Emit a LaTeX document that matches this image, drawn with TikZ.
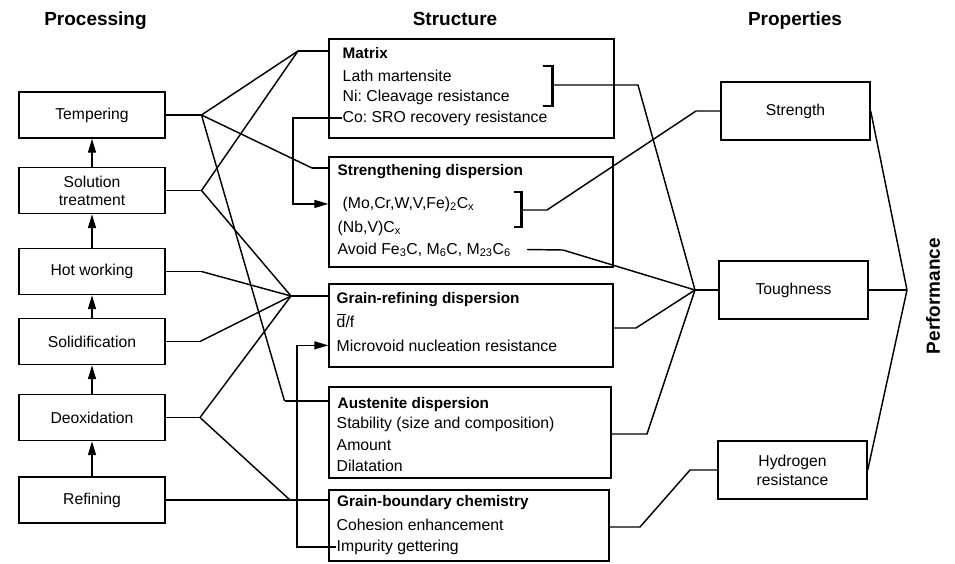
\documentclass[tikz,border=0pt]{standalone}
\usepackage{fontspec}
\setmainfont{Liberation Sans}
\usetikzlibrary{arrows.meta}
\frenchspacing
\begin{document}
\begin{tikzpicture}[x=1pt,y=-1pt,line width=1.45pt,line join=miter,
  pbox/.style={draw,minimum width=146pt,minimum height=46pt,inner sep=0pt,align=center,font=\fontsize{15.7}{18}\selectfont},
  rbox/.style={draw,minimum width=149pt,minimum height=58pt,inner sep=0pt,align=center,font=\fontsize{15.7}{19}\selectfont},
  sbox/.style={draw,inner sep=0pt},
  txt/.style={anchor=base west,inner sep=0pt,font=\fontsize{15.8}{19}\selectfont},
  ttl/.style={anchor=base west,inner sep=0pt,font=\fontsize{15.3}{18}\selectfont\bfseries},
  hdr/.style={inner sep=0pt,font=\fontsize{19}{22}\selectfont\bfseries},
  arr/.style={-{Triangle[length=14pt,width=8pt]}},
  brk/.style={line width=3pt,line cap=butt}]
\useasboundingbox (0,0) rectangle (955,563);

% headers
\node[hdr,anchor=base] (hproc) at (95.5,25) {Processing};
\node[hdr,anchor=base] (hstr) at (455,25) {Structure};
\node[hdr,anchor=base] (hprop) at (795,25) {Properties};
\node[hdr,rotate=90] (hperf) at (933,296) {Performance};

% processing boxes
\node[pbox] (temp) at (92,115) {Tempering};
\node[pbox] (sol) at (92,190.5) {Solution\\treatment};
\node[pbox] (hot) at (92,271.5) {Hot working};
\node[pbox] (solid) at (92,341.5) {Solidification};
\node[pbox] (deox) at (92,417.5) {Deoxidation};
\node[pbox] (ref) at (92,500) {Refining};

\draw[arr] (sol.north) -- (temp.south);
\draw[arr] (hot.north) -- (sol.south);
\draw[arr] (solid.north) -- (hot.south);
\draw[arr] (deox.north) -- (solid.south);
\draw[arr] (ref.north) -- (deox.south);

% structure boxes
\node[sbox,minimum width=285pt,minimum height=99pt] (mat) at (471.5,88.5) {};
\node[sbox,minimum width=284pt,minimum height=110pt] (sd) at (471,212) {};
\node[sbox,minimum width=284pt,minimum height=83pt] (grd) at (471,325.5) {};
\node[sbox,minimum width=282pt,minimum height=91pt] (aus) at (470,432.5) {};
\node[sbox,minimum width=280pt,minimum height=71pt] (gbc) at (469,525.5) {};

\node[ttl] (m1) at (342,58) {Matrix};
\node[txt] (m2) at (342,81) {Lath martensite};
\node[txt] (m3) at (342,101.7) {Ni: Cleavage resistance};
\node[txt] (m4) at (342,122) {Co: SRO recovery resistance};

\node[ttl] (s1) at (337,175.5) {Strengthening dispersion};
\node[txt] (s2) at (342,208) {(Mo,Cr,W,V,Fe)\textsubscript{2}C\textsubscript{x}};
\node[txt] (s3) at (337,232) {(Nb,V)C\textsubscript{x}};
\node[txt] (s4) at (337,254) {Avoid Fe\textsubscript{3}C, M\textsubscript{6}C, M\textsubscript{23}C\textsubscript{6}};

\node[ttl] (g1) at (336,303) {Grain-refining dispersion};
\node[txt] (g2) at (336,327) {$\overline{\hbox{d}}$/f};
\node[txt] (g3) at (336,351) {Microvoid nucleation resistance};

\node[ttl] (a1) at (337,408.3) {Austenite dispersion};
\node[txt] (a2) at (336,428.3) {Stability (size and composition)};
\node[txt] (a3) at (336,450) {Amount};
\node[txt] (a4) at (336,471) {Dilatation};

\node[ttl] (b1) at (336.5,506.7) {Grain-boundary chemistry};
\node[txt] (b2) at (336,530.7) {Cohesion enhancement};
\node[txt] (b3) at (336,551) {Impurity gettering};

% brackets
\draw (543,66) -- (552,66);
\draw (543,106) -- (552,106);
\draw[brk] (552,65.3) -- (552,106.7);
\coordinate (mbr) at (552,85);
\draw (514,192) -- (521,192);
\draw (514,227) -- (521,227);
\draw[brk] (521,191.3) -- (521,227.7);
\coordinate (sbr) at (521,210);

% property boxes
\node[rbox] (str) at (795.5,111) {Strength};
\node[rbox] (tou) at (793.5,290) {Toughness};
\node[rbox] (hyd) at (792.5,470) {Hydrogen\\resistance};

% left junctions
\coordinate (tj) at (201.5,115);
\coordinate (sj) at (201.5,190.5);
\coordinate (hj) at (201.5,271.5);
\coordinate (soj) at (200,341.5);
\coordinate (dj) at (200,417.5);
\coordinate (mj) at (298,51);
\coordinate (stj) at (312,168);
\coordinate (gj) at (291,296);
\coordinate (aj) at (284.5,401);
\coordinate (bj) at (290,500);

\draw (temp.east) -- (tj);
\draw (sol.east) -- (sj);
\draw (hot.east) -- (hj);
\draw (solid.east) -- (soj);
\draw (deox.east) -- (dj);
\draw (ref.east) -- (bj);

\draw (tj) -- (mj);
\draw (tj) -- (stj);
\draw (tj) -- (aj);
\draw (sj) -- (mj);
\draw (sj) -- (gj);
\draw (hj) -- (gj);
\draw (soj) -- (gj);
\draw (dj) -- (gj);
\draw (dj) -- (bj);

\draw (mj) -- (mj -| mat.west);
\draw (stj) -- (stj -| sd.west);
\draw (gj) -- (gj -| grd.west);
\draw (aj) -- (aj -| aus.west);
\draw (bj) -- (bj -| gbc.west);

% internal feedback arrows
\draw[arr] (m4.west) -- ++(-49,0) |- (sd.west |- s2.west);
\draw[arr] (b3.west) -- ++(-39,0) |- (grd.west |- g3.west);

% right junctions
\coordinate (mk) at (638,85);
\coordinate (toj) at (695,290);
\coordinate (sk) at (547,210);
\coordinate (sj2) at (696,111);
\coordinate (av) at (527,249.5);
\coordinate (avk) at (563,250);
\coordinate (grk) at (636,328);
\coordinate (ak) at (647,434);
\coordinate (bk1) at (640,527);
\coordinate (bk2) at (690,470);
\coordinate (pj) at (907,290);

\draw (mbr) -- (mk) -- (toj);
\draw (sbr) -- (sk) -- (sj2) -- (str.west);
\draw (av) -- (avk) -- (toj);
\draw (grk -| grd.east) -- (grk) -- (toj);
\draw (ak -| aus.east) -- (ak) -- (toj);
\draw (toj) -- (tou.west);
\draw (bk1 -| gbc.east) -- (bk1) -- (bk2) -- (hyd.west);

\draw (str.east) -- (pj);
\draw (tou.east) -- (pj);
\draw (hyd.east) -- (pj);
\end{tikzpicture}
\end{document}
